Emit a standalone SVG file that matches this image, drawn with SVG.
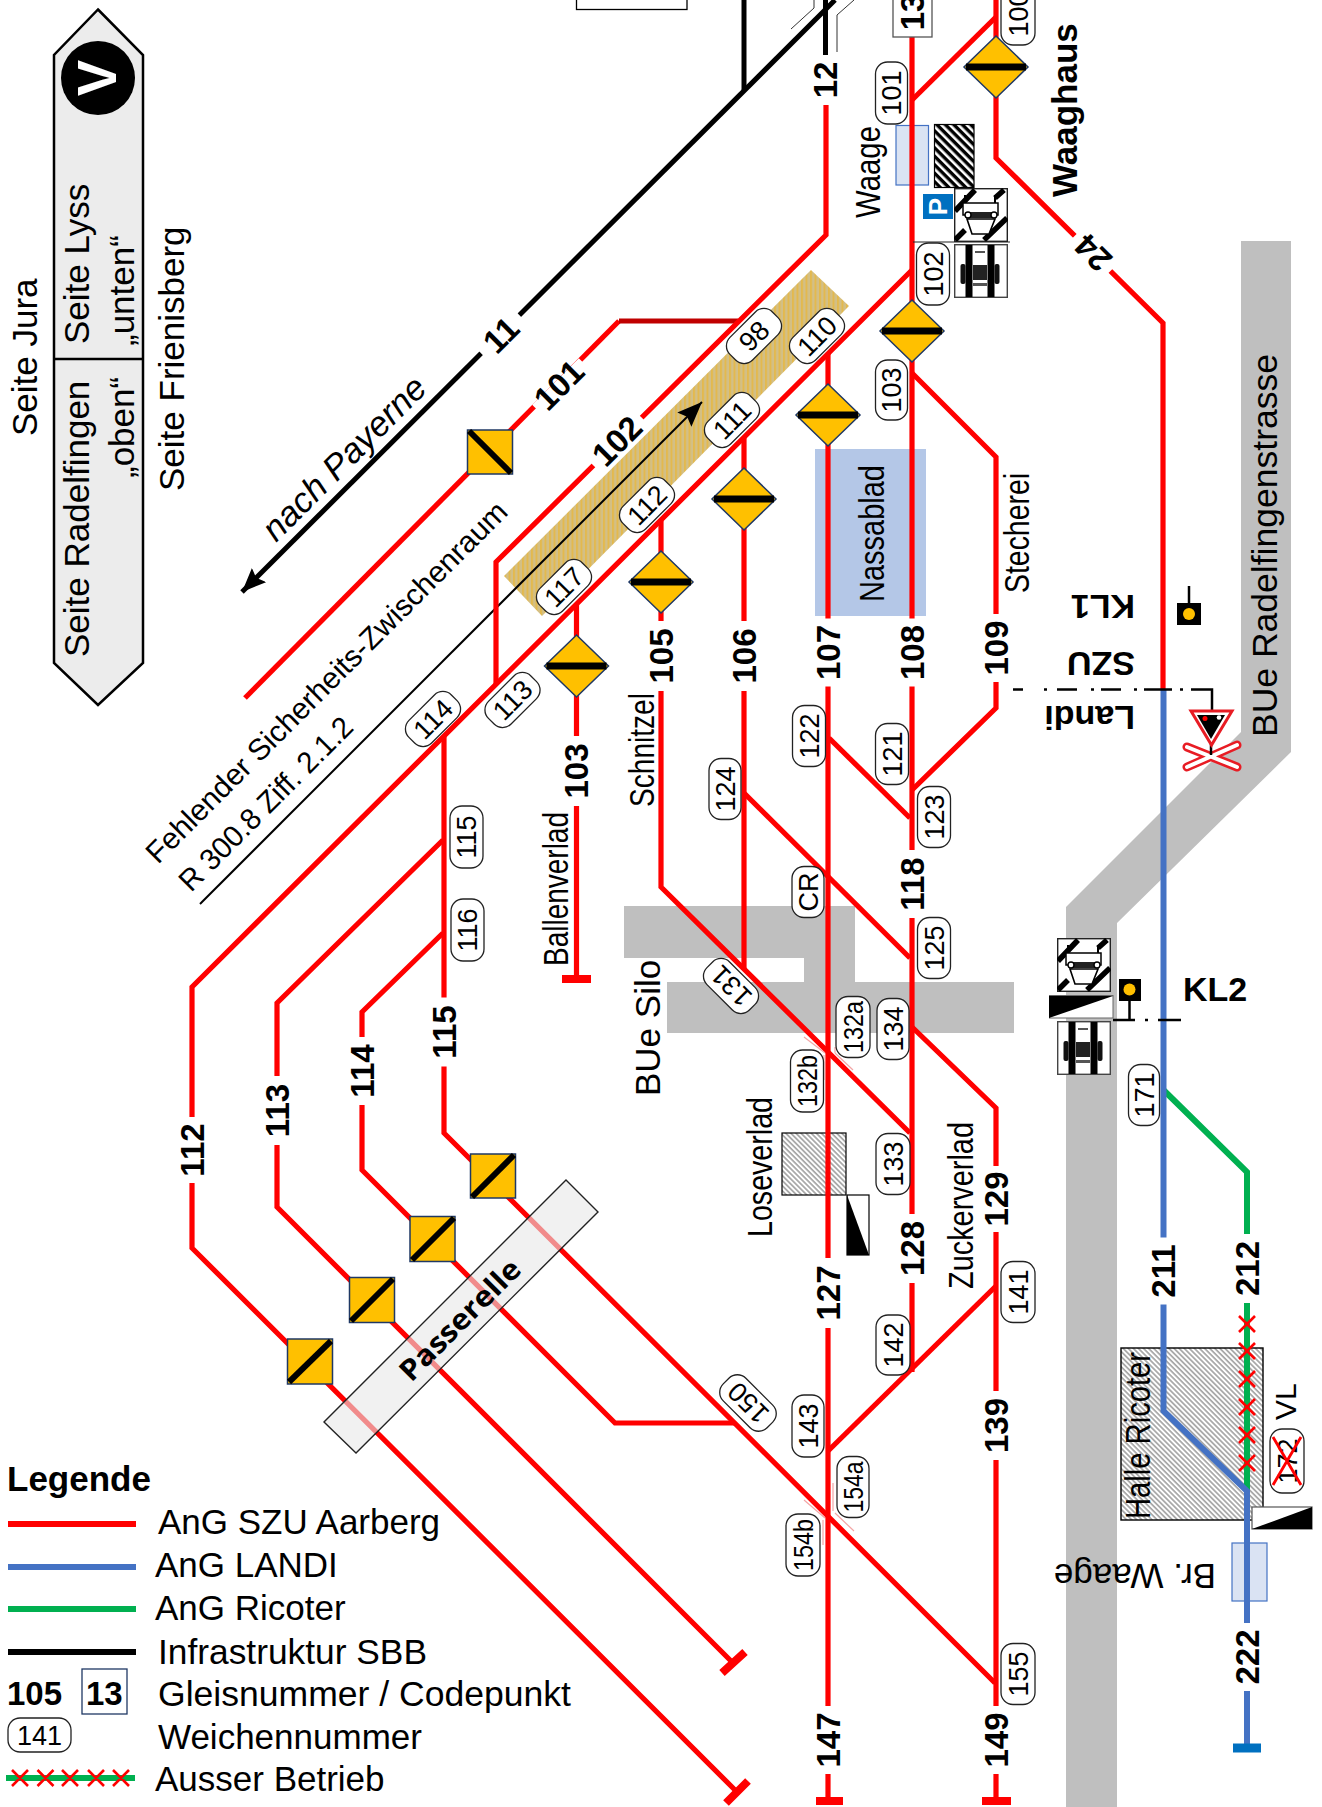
<svg xmlns="http://www.w3.org/2000/svg" width="1322" height="1807" viewBox="0 0 1322 1807">
<style>
text{font-family:"Liberation Sans",Arial,sans-serif;fill:#000}
.t35{font-size:35px}.t30{font-size:30px}
.c{font-size:34.5px}
.b32{font-size:33px;font-weight:bold;text-anchor:middle}
.b34{font-size:34px;font-weight:bold}
.r{fill:none;stroke:#f00;stroke-width:5.2}
.bl{fill:none;stroke:#4472c4;stroke-width:6}
.gr{fill:none;stroke:#00b050;stroke-width:6}
.k{fill:none;stroke:#000;stroke-width:5}
.gap{fill:#fff}
.pill rect{fill:#fff;stroke:#222;stroke-width:1.3}
.pill text{font-size:27px;text-anchor:middle}
.thin{fill:none;stroke:#f4a6a6;stroke-width:1.2}
.dia polygon{fill:#ffc000;stroke:#1f3864;stroke-width:1.5}
.dia rect{fill:#000}
.sq rect{fill:#ffc000;stroke:#1f3864;stroke-width:1.5}
.sq path{stroke:#000;stroke-width:6;fill:none}
.road{fill:#bfbfbf}
.wg{fill:#dae3f3;stroke:#4472c4;stroke-width:1.2}
.xx{stroke:#f00;stroke-width:2.6;fill:none}
</style>
<defs>
<pattern id="hGray" width="3.6" height="3.6" patternUnits="userSpaceOnUse" patternTransform="rotate(45)"><rect width="3.6" height="3.6" fill="#fff"/><rect width="3.6" height="1.7" fill="#a6a6a6"/></pattern>
<pattern id="hBlack" width="6" height="6" patternUnits="userSpaceOnUse" patternTransform="rotate(45)"><rect width="6" height="6" fill="#fff"/><rect width="6" height="3.4" fill="#000"/></pattern>
<pattern id="hTan" width="4.5" height="4.5" patternUnits="userSpaceOnUse"><rect width="4.5" height="4.5" fill="#d3bf86"/><rect width="2" height="4.5" fill="#e3b94e"/></pattern>
<marker id="ah" markerUnits="userSpaceOnUse" markerWidth="30" markerHeight="30" refX="24" refY="10" orient="auto"><path d="M0 0L24 10L0 20L4 10Z" fill="#000"/></marker>
<marker id="ah2" markerUnits="userSpaceOnUse" markerWidth="30" markerHeight="30" refX="25" refY="10" orient="auto"><path d="M0 0L25 10L0 20L4 10Z" fill="#000"/></marker>
<symbol id="icA" viewBox="0 0 54 54" width="54" height="54">
<rect x=".7" y=".7" width="52.6" height="52.6" fill="#fff" stroke="#222" stroke-width="1.4"/>
<path d="M1 23L21 2M41 10L50 2M1 52L11 42M30 52L53 30" stroke="#000" stroke-width="5.5" fill="none"/>
<path d="M11 7V15M41 7V15" stroke="#000" stroke-width="2"/>
<rect x="9" y="15" width="35" height="12" fill="#fff" stroke="#000" stroke-width="1.5"/>
<rect x="14" y="24" width="25" height="6" fill="#222"/>
<polygon points="13,31 41,31 35,46 18,46" fill="#fff" stroke="#000" stroke-width="1.6"/>
<circle cx="14" cy="27" r="3" fill="#fff" stroke="#000" stroke-width="1.4"/><circle cx="40" cy="27" r="3" fill="#fff" stroke="#000" stroke-width="1.4"/>
</symbol>
<symbol id="icB" viewBox="0 0 54 54" width="54" height="54">
<rect x=".7" y=".7" width="52.6" height="52.6" fill="#fff" stroke="#444" stroke-width="1.4"/>
<rect x="11.500" y="1" width="7" height="52" fill="#000"/><rect x="33.500" y="1" width="7" height="52" fill="#000"/>
<rect x="6.500" y="20" width="5" height="20" rx="2" fill="#111"/><rect x="40.500" y="20" width="5" height="20" rx="2" fill="#111"/>
<rect x="19" y="21" width="14" height="15" fill="#222"/><rect x="19" y="39" width="14" height="3" fill="#555"/><rect x="21" y="7" width="10" height="2" fill="#555"/>
</symbol>
</defs>
<rect width="1322" height="1807" fill="#fff"/>

<g id="areas">
<polygon class="road" points="1241,241 1291,241 1291,752 1117,923 1117,1807 1066,1807 1066,907 1241,732"/>
<polygon class="road" points="624,906 855,906 855,982 1014,982 1014,1033 667,1033 667,982 804,982 804,958 624,958"/>
<polygon points="811,270 849,306 542,616 504,576" fill="url(#hTan)"/>
<rect x="815" y="449" width="111" height="167" fill="#b4c7e7"/>
<rect class="wg" x="896" y="125.5" width="32.5" height="59.5"/>
<rect x="934.5" y="124.5" width="39.5" height="63" fill="url(#hBlack)" stroke="#000" stroke-width="1.2"/>
<rect x="782" y="1133" width="64" height="62" fill="url(#hGray)" stroke="#000" stroke-width="1.2"/>
<rect x="1121" y="1348" width="142" height="172" fill="url(#hGray)" stroke="#000" stroke-width="1.4"/>
<rect class="wg" x="1232" y="1543" width="35" height="58"/>
<rect x="576.5" y="-4" width="110.5" height="13.5" fill="#fff" stroke="#000" stroke-width="1.3"/>
</g>

<g id="connectors">
<path class="k" d="M835 0L242 592" marker-end="url(#ah)"/>
<path class="k" d="M744 0V90"/>
<path class="k" d="M825.5 0V55"/>
<path fill="none" stroke="#333" stroke-width="1" d="M791 29L814 8V0M837 52V15L854 0"/>
<path fill="none" stroke="#000" stroke-width="2" d="M200 904L702 402" marker-end="url(#ah2)"/>
<path class="r" d="M245 698L619 321"/>
<path d="M619 321H738" fill="none" stroke="#c00000" stroke-width="5.2"/>
<path class="r" d="M826 105V235L496 562V684"/>
<path class="r" d="M737 1792L192 1248V987L912 270"/>
<path class="r" d="M443 840L277 1003V1207L732 1662"/>
<path class="r" d="M443 933L362 1012V1170L615 1423H735"/>
<path class="r" d="M444 737V1133L995 1683"/>
<path class="r" d="M576.5 605V979"/>
<path class="r" d="M661 521V887L910 1133"/>
<path class="r" d="M744 438V970"/>
<path class="r" d="M828 354V1801"/>
<path class="r" d="M912 37V1372"/>
<path class="r" d="M996 0V158L1163 323V690"/>
<path class="r" d="M912 100L996 17"/>
<path class="r" d="M912 373L996 457V708L912 790"/>
<path class="r" d="M829 738L910 818"/>
<path class="r" d="M744 793L910 958"/>
<path class="r" d="M912 1027L996 1108V1801"/>
<path class="r" d="M996 1286L828 1451"/>
<path class="thin" d="M804 1037L825 1053M824 1055V1080M835 1047V1053M835 1053L853 1070M804 1500L825 1518M823 1520V1545M833 1483V1511M835 1513L854 1531"/>
<path d="M562 979H591M816 1801H843M982 1801H1011" fill="none" stroke="#f00" stroke-width="8"/>
<path d="M726 1803L748 1781M722 1673L745 1652" fill="none" stroke="#f00" stroke-width="8"/>
<path class="gr" d="M1163.500 1090L1247 1172V1491"/>
<path class="bl" d="M1163.500 690V1411L1247 1491V1748"/>
<path d="M1233 1748H1261" fill="none" stroke="#0070c0" stroke-width="9"/>
<path class="xx" d="M1239 1316l16 16m0-16l-16 16M1239 1343l16 16m0-16l-16 16M1239 1371l16 16m0-16l-16 16M1239 1399l16 16m0-16l-16 16M1239 1427l16 16m0-16l-16 16M1239 1455l16 16m0-16l-16 16"/>
</g>

<g id="passerelle">
<polygon points="566,1180 598,1212 356,1453 324,1422" fill="#e8e8e8" fill-opacity=".6" stroke="#222" stroke-width="1.4"/>
<text transform="translate(460 1320) rotate(-45)" y="10" text-anchor="middle" style="font-family:'Open Sans',sans-serif;font-size:29px;font-weight:bold" textLength="158" lengthAdjust="spacingAndGlyphs">Passerelle</text>
</g>

<g id="orientation">
<polygon points="98,9.500 143,55 143,663 98,705 54,663 54,55" fill="#ececec" stroke="#000" stroke-width="2.500"/>
<path d="M54 359H143" stroke="#000" stroke-width="2.500"/>
<circle cx="98" cy="78" r="37" fill="#000"/>
<text transform="translate(116 78) rotate(-90)" text-anchor="middle" style="font-size:55px;font-weight:bold;fill:#fff" textLength="36" lengthAdjust="spacingAndGlyphs">V</text>
<text class="t35" transform="translate(37 436) rotate(-90)">Seite Jura</text>
<text class="t35" transform="translate(89 657) rotate(-90)">Seite Radelfingen</text>
<text class="t35" transform="translate(89 344) rotate(-90)">Seite Lyss</text>
<text class="t35" transform="translate(134 346) rotate(-90)">„unten“</text>
<text class="t35" transform="translate(134 478) rotate(-90)">„oben“</text>
<text class="t35" transform="translate(184 491) rotate(-90)">Seite Frienisberg</text>
</g>

<g id="texts">
<text class="t35" font-style="italic" transform="translate(276 543) rotate(-45)">nach Payerne</text>
<text class="t30" transform="translate(158 865) rotate(-45)">Fehlender Sicherheits-Zwischenraum</text>
<text class="t30" transform="translate(191 893) rotate(-45)" textLength="232" lengthAdjust="spacingAndGlyphs">R 300.8 Ziff. 2.1.2</text>
<text class="c" transform="translate(879.500 218) rotate(-90)" textLength="92" lengthAdjust="spacingAndGlyphs">Waage</text>
<text class="b34" style="font-size:35px" transform="translate(1077 197) rotate(-90)">Waaghaus</text>
<text class="c" transform="translate(884 602) rotate(-90)" textLength="137" lengthAdjust="spacingAndGlyphs">Nassablad</text>
<text class="c" transform="translate(1029 593) rotate(-90)" textLength="120" lengthAdjust="spacingAndGlyphs">Stecherei</text>
<text class="c" transform="translate(654 807) rotate(-90)" textLength="114" lengthAdjust="spacingAndGlyphs">Schnitzel</text>
<text class="c" transform="translate(567.500 966) rotate(-90)" textLength="154" lengthAdjust="spacingAndGlyphs">Ballenverlad</text>
<text class="t35" transform="translate(659.500 1096) rotate(-90)">BUe Silo</text>
<text class="t35" transform="translate(1277 737) rotate(-90)" textLength="383" lengthAdjust="spacingAndGlyphs">BUe Radelfingenstrasse</text>
<text class="c" transform="translate(772 1237) rotate(-90)" textLength="140" lengthAdjust="spacingAndGlyphs">Loseverlad</text>
<text class="c" transform="translate(973 1289) rotate(-90)" textLength="167" lengthAdjust="spacingAndGlyphs">Zuckerverlad</text>
<text class="c" transform="translate(1150 1519) rotate(-90)" textLength="167" lengthAdjust="spacingAndGlyphs">Halle Ricoter</text>
<text class="t30" transform="translate(1296 1420) rotate(-90)">VL</text>
<text class="t35" transform="translate(1216 1564) rotate(180)">Br. Waage</text>
<text class="b34" transform="translate(1135 595) rotate(180)">KL1</text>
<text class="b34" transform="translate(1135 652) rotate(180)">SZU</text>
<text class="b34" transform="translate(1135 706) rotate(180)">Landi</text>
<text class="b34" x="1183" y="1001">KL2</text>
</g>

<g id="track-labels">
<g id="l11" transform="translate(501 335) rotate(-45)"><rect class="gap" x="-27" y="-5" width="54" height="10"/><text class="b32" y="11.500">11</text></g>
<g id="l101" transform="translate(559 385) rotate(-45)"><rect class="gap" x="-33" y="-5" width="66" height="10"/><text class="b32" y="11.500">101</text></g>
<g id="l102" transform="translate(617 441) rotate(-45)"><rect class="gap" x="-34" y="-5" width="68" height="10"/><text class="b32" y="11.500">102</text></g>
<g id="l24" transform="translate(1093 253) rotate(-135)"><rect class="gap" x="-25" y="-5" width="50" height="10"/><text class="b32" y="11.500">24</text></g>
<g id="l12" transform="translate(825.500 80) rotate(-90)"><rect class="gap" x="-25" y="-5" width="50" height="10"/><text class="b32" y="11.500">12</text></g>
<g id="l103" transform="translate(576.500 771) rotate(-90)"><rect class="gap" x="-35" y="-5" width="70" height="10"/><text class="b32" y="11.500">103</text></g>
<g id="l105" transform="translate(661 656) rotate(-90)"><rect class="gap" x="-35" y="-5" width="70" height="10"/><text class="b32" y="11.500">105</text></g>
<g id="l106" transform="translate(744 656) rotate(-90)"><rect class="gap" x="-35" y="-5" width="70" height="10"/><text class="b32" y="11.500">106</text></g>
<g id="l107" transform="translate(828 652.500) rotate(-90)"><rect class="gap" x="-34" y="-5" width="68" height="10"/><text class="b32" y="11.500">107</text></g>
<g id="l108" transform="translate(912 652.500) rotate(-90)"><rect class="gap" x="-34" y="-5" width="68" height="10"/><text class="b32" y="11.500">108</text></g>
<g id="l109" transform="translate(996 648) rotate(-90)"><rect class="gap" x="-34" y="-5" width="68" height="10"/><text class="b32" y="11.500">109</text></g>
<g id="l118" transform="translate(912 884) rotate(-90)"><rect class="gap" x="-34" y="-5" width="68" height="10"/><text class="b32" y="11.500">118</text></g>
<g id="l115" transform="translate(444 1032) rotate(-90)"><rect class="gap" x="-34.500" y="-5" width="69" height="10"/><text class="b32" y="11.500">115</text></g>
<g id="l114" transform="translate(362 1071) rotate(-90)"><rect class="gap" x="-34" y="-5" width="68" height="10"/><text class="b32" y="11.500">114</text></g>
<g id="l113" transform="translate(277 1110.500) rotate(-90)"><rect class="gap" x="-34.500" y="-5" width="69" height="10"/><text class="b32" y="11.500">113</text></g>
<g id="l112" transform="translate(192 1150) rotate(-90)"><rect class="gap" x="-33" y="-5" width="66" height="10"/><text class="b32" y="11.500">112</text></g>
<g id="l127" transform="translate(828 1293) rotate(-90)"><rect class="gap" x="-35" y="-5" width="70" height="10"/><text class="b32" y="11.500">127</text></g>
<g id="l128" transform="translate(912 1248.500) rotate(-90)"><rect class="gap" x="-34.500" y="-5" width="69" height="10"/><text class="b32" y="11.500">128</text></g>
<g id="l129" transform="translate(996 1199) rotate(-90)"><rect class="gap" x="-33" y="-5" width="66" height="10"/><text class="b32" y="11.500">129</text></g>
<g id="l139" transform="translate(996 1425.500) rotate(-90)"><rect class="gap" x="-34.500" y="-5" width="69" height="10"/><text class="b32" y="11.500">139</text></g>
<g id="l147" transform="translate(828 1740) rotate(-90)"><rect class="gap" x="-34" y="-5" width="68" height="10"/><text class="b32" y="11.500">147</text></g>
<g id="l149" transform="translate(996 1740) rotate(-90)"><rect class="gap" x="-34" y="-5" width="68" height="10"/><text class="b32" y="11.500">149</text></g>
<g id="l211" transform="translate(1163.500 1271) rotate(-90)"><rect class="gap" x="-33.500" y="-5" width="67" height="10"/><text class="b32" y="11.500">211</text></g>
<g id="l212" transform="translate(1247 1268.500) rotate(-90)"><rect class="gap" x="-34.500" y="-5" width="69" height="10"/><text class="b32" y="11.500">212</text></g>
<g id="l222" transform="translate(1247 1657) rotate(-90)"><rect class="gap" x="-34" y="-5" width="68" height="10"/><text class="b32" y="11.500">222</text></g>
<g id="l13"><rect x="893" y="-4" width="39" height="41" fill="#fff" stroke="#555" stroke-width="1.3"/><text class="b32" transform="translate(912 30) rotate(-90)" x="18" y="11.500">13</text></g>
</g>

<g id="signals">
<g id="d1" class="dia"><polygon points="996,36 1028,67 996,98 964,67"/><rect x="966" y="63.500" width="60" height="7"/></g>
<g id="d2" class="dia"><polygon points="912,300 944,331 912,362 880,331"/><rect x="882" y="327.500" width="60" height="7"/></g>
<g id="d3" class="dia"><polygon points="828,384 860,415 828,446 796,415"/><rect x="798" y="411.500" width="60" height="7"/></g>
<g id="d4" class="dia"><polygon points="744,468 776,499 744,530 712,499"/><rect x="714" y="495.500" width="60" height="7"/></g>
<g id="d5" class="dia"><polygon points="661,551 693,582 661,613 629,582"/><rect x="631" y="578.500" width="60" height="7"/></g>
<g id="d6" class="dia"><polygon points="576.500,635 608.500,666 576.500,697 544.500,666"/><rect x="546.500" y="662.500" width="60" height="7"/></g>
<g id="s101" class="sq"><rect x="467.500" y="430" width="45" height="44"/><path d="M469 431L511 473"/></g>
<g id="s112" class="sq"><rect x="287.500" y="1339" width="45" height="45"/><path d="M289 1382L331 1341"/></g>
<g id="s113" class="sq"><rect x="349.500" y="1277.500" width="45" height="45"/><path d="M351 1321L393 1279"/></g>
<g id="s114" class="sq"><rect x="410" y="1216.500" width="45" height="45"/><path d="M412 1260L454 1218"/></g>
<g id="s115" class="sq"><rect x="470.500" y="1154" width="45" height="44"/><path d="M472 1197L514 1155"/></g>
<g id="parking"><rect x="923" y="194" width="30" height="25" fill="#0070c0"/><text transform="translate(947 206.500) rotate(-90)" text-anchor="middle" style="font-size:26px;font-weight:bold;fill:#fff">P</text></g>
<g id="icons-waage"><use href="#icA" x="954" y="188"/><use href="#icB" x="954" y="244"/><path d="M913 242H1010" stroke="#222" stroke-width="1.2"/></g>
<g id="icons-kl2"><use href="#icA" x="1057" y="938"/><use href="#icB" x="1057" y="1021"/>
<rect x="1049.500" y="995.500" width="63.500" height="22.500" fill="#fff" stroke="#666" stroke-width="1"/><polygon points="1049,996 1113,996 1049,1018" fill="#000"/></g>
<g id="kl1"><path d="M1189 586V603" stroke="#000" stroke-width="2.500"/><rect x="1177" y="603" width="24" height="22" fill="#000"/><circle cx="1189" cy="614" r="6" fill="#ffc000"/></g>
<g id="bue-signal">
<path d="M1013 689.500H1023M1044 689.500H1047M1057 689.500H1077M1091 689.500H1094M1101 689.500H1121M1134 689.500H1137M1144 689.500H1172M1180 689.500H1183M1191 689.500H1212V711" fill="none" stroke="#000" stroke-width="2.500"/>
<path d="M1187 747L1237 767M1237 745L1187 767" stroke="#e81c24" stroke-width="9" stroke-linecap="round" fill="none"/>
<path d="M1187 747L1237 767M1237 745L1187 767" stroke="#fff" stroke-width="4" stroke-linecap="round" fill="none"/>
<path d="M1211 740V755" stroke="#000" stroke-width="2.500"/>
<polygon points="1191,711 1232,711 1211.500,745" fill="#fff" stroke="#e81c24" stroke-width="3"/>
<polygon points="1197,715 1225,715 1211,739" fill="#000"/>
<circle cx="1205" cy="718.500" r="2.500" fill="#f00"/><circle cx="1219" cy="717.500" r="2.300" fill="#fff"/>
</g>
<g id="kl2"><path d="M1129.500 1001V1020M1113 1020H1135M1145 1020H1148M1158 1020H1181" fill="none" stroke="#000" stroke-width="2.500"/><rect x="1119" y="979" width="22" height="22" fill="#000"/><circle cx="1129.500" cy="989.500" r="6" fill="#ffc000"/></g>
<g id="lose-sign"><rect x="847" y="1195" width="22" height="60" fill="#fff" stroke="#000" stroke-width="1.2"/><polygon points="847,1195 869,1255 847,1255" fill="#000"/></g>
<g id="vl-sign"><rect x="1252" y="1507" width="60" height="22" fill="#fff" stroke="#555" stroke-width="1.2"/><polygon points="1252,1529 1312,1507 1312,1529" fill="#000"/></g>
</g>

<g id="points">
<g id="p100" class="pill" transform="translate(1018 14) rotate(-90)"><rect x="-31" y="-17" width="62" height="34" rx="12"/><text y="9.500">100</text></g>
<g id="p101" class="pill" transform="translate(891.500 93) rotate(-90)"><rect x="-31" y="-16" width="62" height="32" rx="12"/><text y="9.500">101</text></g>
<g id="p102" class="pill" transform="translate(933 274) rotate(-90)"><rect x="-31" y="-16.500" width="62" height="33" rx="12"/><text y="9.500">102</text></g>
<g id="p103" class="pill" transform="translate(891.500 390) rotate(-90)"><rect x="-30" y="-16" width="60" height="32" rx="12"/><text y="9.500">103</text></g>
<g id="p98" class="pill" transform="translate(754 336) rotate(-45)"><rect x="-30" y="-16" width="60" height="32" rx="12"/><text y="9.500">98</text></g>
<g id="p110" class="pill" transform="translate(817 336) rotate(-45)"><rect x="-30" y="-16" width="60" height="32" rx="12"/><text y="9.500">110</text></g>
<g id="p111" class="pill" transform="translate(732 420) rotate(-45)"><rect x="-30" y="-16" width="60" height="32" rx="12"/><text y="9.500">111</text></g>
<g id="p112" class="pill" transform="translate(647 505) rotate(-45)"><rect x="-30" y="-16" width="60" height="32" rx="12"/><text y="9.500">112</text></g>
<g id="p117" class="pill" transform="translate(564 587) rotate(-45)"><rect x="-30" y="-16" width="60" height="32" rx="12"/><text y="9.500">117</text></g>
<g id="p113" class="pill" transform="translate(512.500 700) rotate(-45)"><rect x="-30" y="-16" width="60" height="32" rx="12"/><text y="9.500">113</text></g>
<g id="p114" class="pill" transform="translate(433 719) rotate(-45)"><rect x="-30" y="-16" width="60" height="32" rx="12"/><text y="9.500">114</text></g>
<g id="p115" class="pill" transform="translate(466.500 837) rotate(-90)"><rect x="-31" y="-16.500" width="62" height="33" rx="12"/><text y="9.500">115</text></g>
<g id="p116" class="pill" transform="translate(467.500 930) rotate(-90)"><rect x="-31" y="-16.500" width="62" height="33" rx="12"/><text y="9.500">116</text></g>
<g id="p122" class="pill" transform="translate(809 736) rotate(-90)"><rect x="-30.500" y="-16.500" width="61" height="33" rx="12"/><text y="9.500">122</text></g>
<g id="p124" class="pill" transform="translate(725 789) rotate(-90)"><rect x="-30.500" y="-16" width="61" height="32" rx="12"/><text y="9.500">124</text></g>
<g id="p121" class="pill" transform="translate(892 754) rotate(-90)"><rect x="-30.500" y="-16.500" width="61" height="33" rx="12"/><text y="9.500">121</text></g>
<g id="p123" class="pill" transform="translate(934 817) rotate(-90)"><rect x="-30.500" y="-16.500" width="61" height="33" rx="12"/><text y="9.500">123</text></g>
<g id="pCR" class="pill" transform="translate(808 892) rotate(-90)"><rect x="-25.500" y="-16" width="51" height="32" rx="12"/><text y="9.500">CR</text></g>
<g id="p125" class="pill" transform="translate(934 948) rotate(-90)"><rect x="-30.500" y="-16.500" width="61" height="33" rx="12"/><text y="9.500">125</text></g>
<g id="p131" class="pill" transform="translate(731 986) rotate(-135)"><rect x="-30" y="-16" width="60" height="32" rx="12"/><text y="9.500">131</text></g>
<g id="p132a" class="pill" transform="translate(853 1027) rotate(-90)"><rect x="-30.500" y="-17" width="61" height="34" rx="12"/><text y="9.500" textLength="52" lengthAdjust="spacingAndGlyphs">132a</text></g>
<g id="p134" class="pill" transform="translate(893 1029) rotate(-90)"><rect x="-30.500" y="-16" width="61" height="32" rx="12"/><text y="9.500">134</text></g>
<g id="p132b" class="pill" transform="translate(807 1081) rotate(-90)"><rect x="-31" y="-16.500" width="62" height="33" rx="12"/><text y="9.500" textLength="52" lengthAdjust="spacingAndGlyphs">132b</text></g>
<g id="p133" class="pill" transform="translate(893 1164) rotate(-90)"><rect x="-30.500" y="-17" width="61" height="34" rx="12"/><text y="9.500">133</text></g>
<g id="p142" class="pill" transform="translate(893 1345) rotate(-90)"><rect x="-30" y="-17" width="60" height="34" rx="12"/><text y="9.500">142</text></g>
<g id="p141" class="pill" transform="translate(1018 1292) rotate(-90)"><rect x="-30.500" y="-17" width="61" height="34" rx="12"/><text y="9.500">141</text></g>
<g id="p143" class="pill" transform="translate(808 1426) rotate(-90)"><rect x="-31" y="-16" width="62" height="32" rx="12"/><text y="9.500">143</text></g>
<g id="p154a" class="pill" transform="translate(853 1487) rotate(-90)"><rect x="-30.500" y="-16" width="61" height="32" rx="12"/><text y="9.500" textLength="51" lengthAdjust="spacingAndGlyphs">154a</text></g>
<g id="p154b" class="pill" transform="translate(803 1545) rotate(-90)"><rect x="-31" y="-17" width="62" height="34" rx="12"/><text y="9.500" textLength="52" lengthAdjust="spacingAndGlyphs">154b</text></g>
<g id="p155" class="pill" transform="translate(1018 1674) rotate(-90)"><rect x="-30.500" y="-17" width="61" height="34" rx="12"/><text y="9.500">155</text></g>
<g id="p150" class="pill" transform="translate(748 1403) rotate(-135)"><rect x="-31" y="-16" width="62" height="32" rx="12"/><text y="9.500">150</text></g>
<g id="p171" class="pill" transform="translate(1144 1095) rotate(-90)"><rect x="-30.500" y="-15.500" width="61" height="31" rx="12"/><text y="9.500">171</text></g>
<g id="p172" class="pill" transform="translate(1287 1461) rotate(-90)"><rect x="-32" y="-17" width="64" height="34" rx="12"/><text y="9.500">172</text><path d="M-24 -14L24 14M24 -14L-24 14" stroke="#f00" stroke-width="2.800" fill="none"/></g>
</g>

<g id="legend">
<text class="b34" style="font-size:35px" x="7" y="1491">Legende</text>
<path d="M8 1524H136" stroke="#f00" stroke-width="6"/>
<path d="M8 1567H136" stroke="#4472c4" stroke-width="6"/>
<path d="M8 1609H136" stroke="#00b050" stroke-width="6"/>
<path d="M8 1652H136" stroke="#000" stroke-width="6"/>
<text class="t35" x="158" y="1534">AnG SZU Aarberg</text>
<text class="t35" x="155" y="1577">AnG LANDI</text>
<text class="t35" x="155" y="1620">AnG Ricoter</text>
<text class="t35" x="158" y="1664" textLength="269" lengthAdjust="spacingAndGlyphs">Infrastruktur SBB</text>
<text class="b34" style="font-size:33px" x="7" y="1705">105</text>
<rect x="82" y="1669" width="45" height="45" fill="#fff" stroke="#1f3864" stroke-width="1.3"/>
<text class="b34" style="font-size:33px" x="86" y="1705">13</text>
<text class="t35" x="158" y="1706" textLength="413" lengthAdjust="spacingAndGlyphs">Gleisnummer / Codepunkt</text>
<g class="pill"><rect x="8" y="1718" width="63" height="34" rx="12"/><text x="39.500" y="1745">141</text></g>
<text class="t35" x="158" y="1749">Weichennummer</text>
<path d="M6 1778H135" stroke="#00b050" stroke-width="6"/>
<path class="xx" d="M12 1770l16 16m0-16l-16 16M37.500 1770l16 16m0-16l-16 16M62 1770l16 16m0-16l-16 16M88 1770l16 16m0-16l-16 16M113 1770l16 16m0-16l-16 16"/>
<text class="t35" x="155" y="1791">Ausser Betrieb</text>
</g>
</svg>
